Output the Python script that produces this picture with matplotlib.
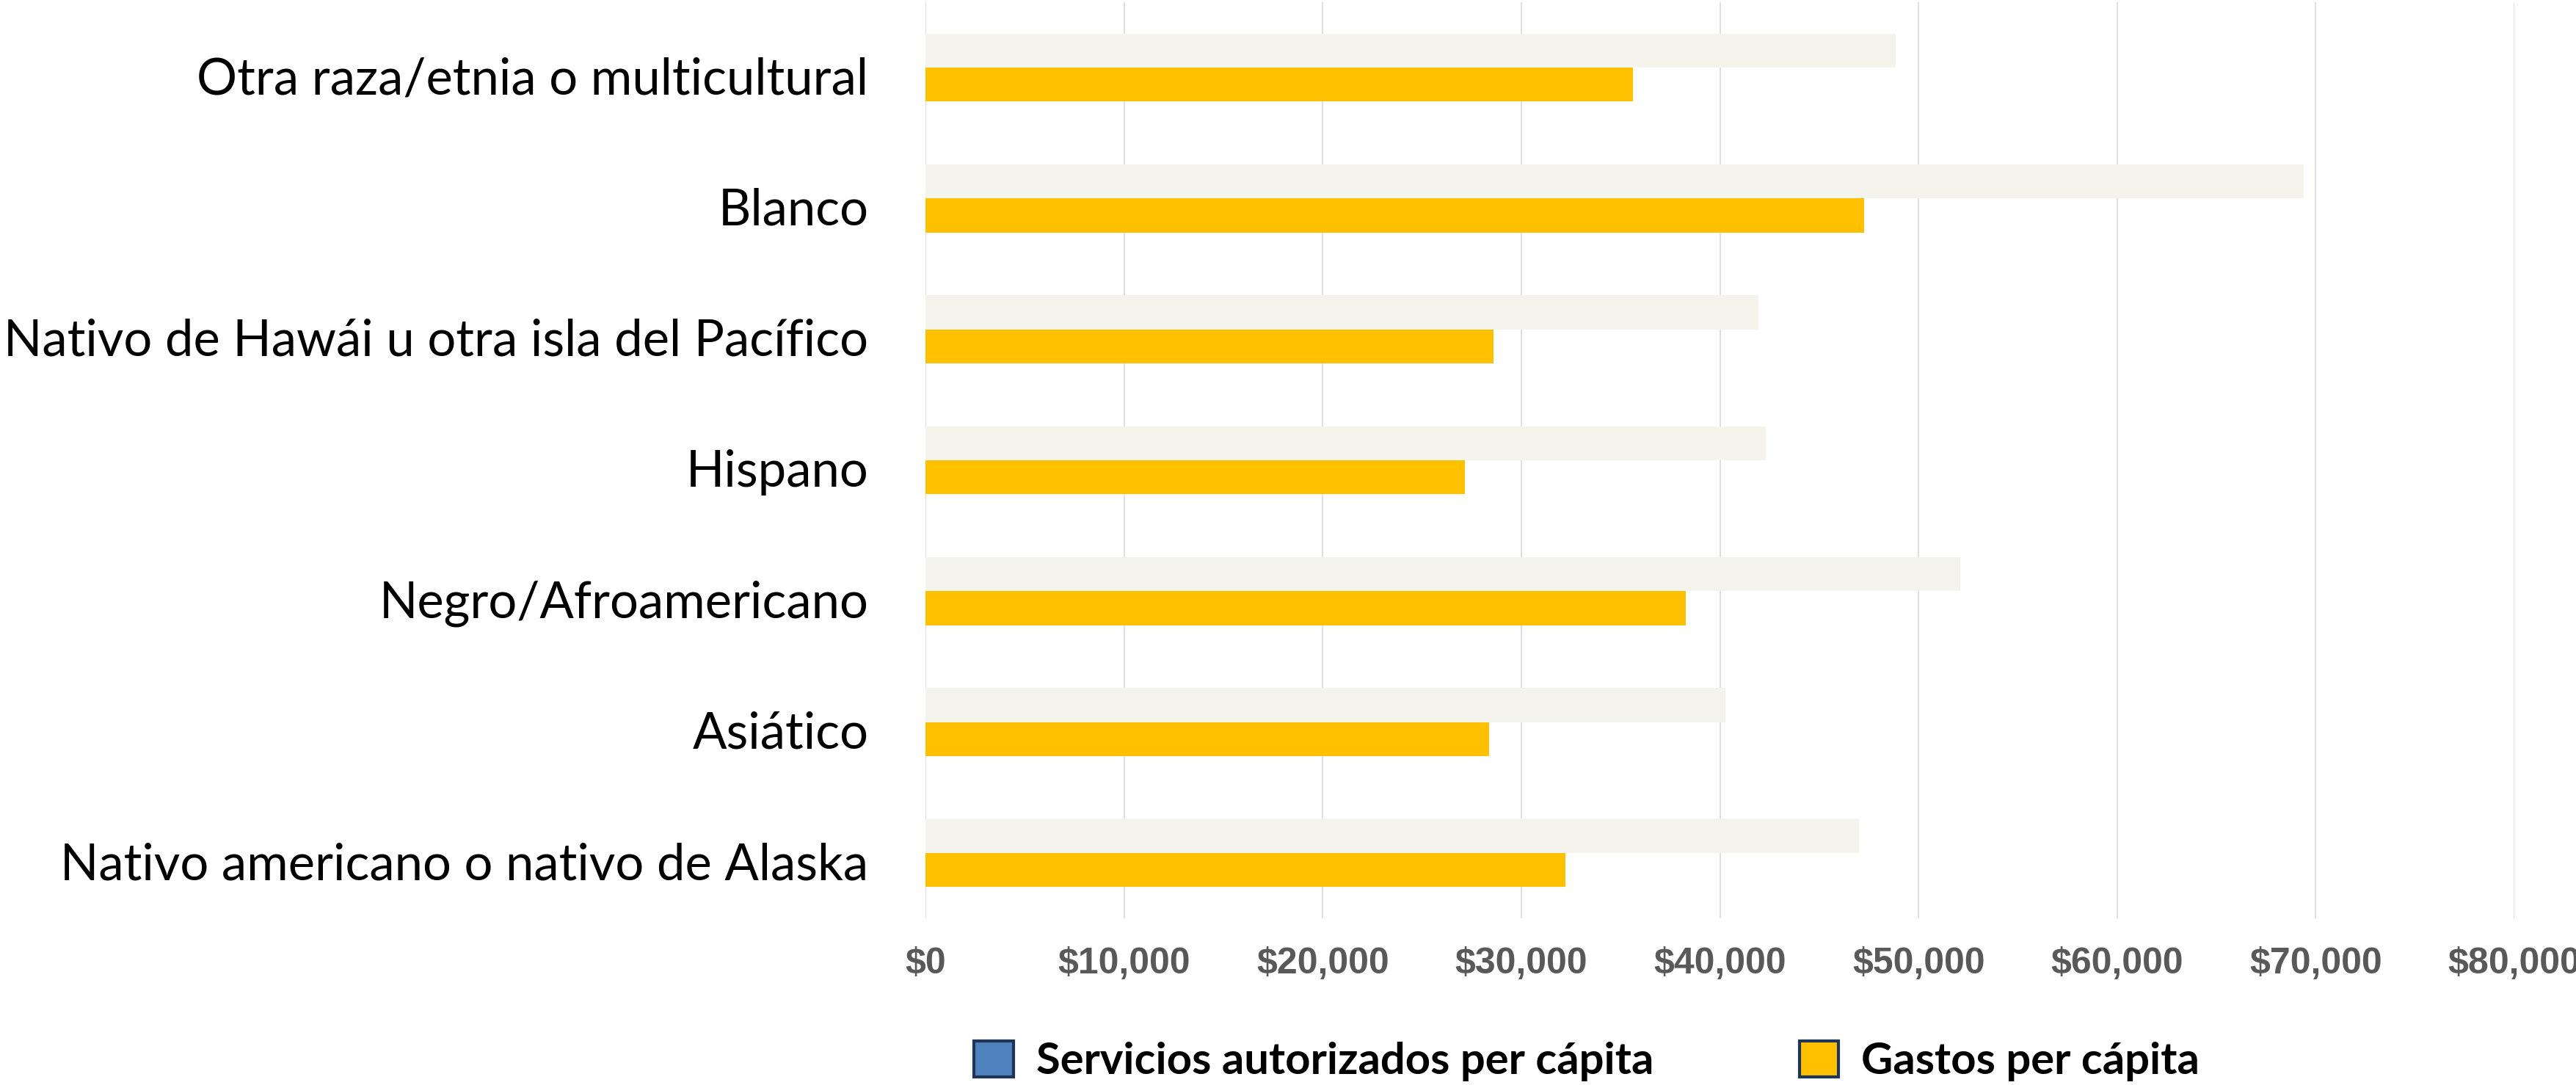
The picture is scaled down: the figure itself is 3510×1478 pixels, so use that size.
import matplotlib.pyplot as plt
import numpy as np
from matplotlib.patches import Patch
from matplotlib.ticker import FuncFormatter

# Per-capita figures by race/ethnicity (bottom to top on the chart)
categories = [
    'Nativo americano o nativo de Alaska',
    'Asiático',
    'Negro/Afroamericano',
    'Hispano',
    'Nativo de Hawái u otra isla del Pacífico',
    'Blanco',
    'Otra raza/etnia o multicultural',
]
authorized = [46980, 40270, 52100, 42320, 41920, 69390, 48850]
expenditures = [32210, 28380, 38280, 27150, 28590, 47260, 35610]
xticks = [0, 10000, 20000, 30000, 40000, 50000, 60000, 70000, 80000]

light_color = '#F4F4EC'
gold_color = '#FFC000'

fig = plt.figure(figsize=(35.1, 14.78), dpi=100)
ax = fig.add_axes([0.3593, 0.1536, 0.6168, 0.8445])

y = np.arange(len(categories))
h = 0.26
ax.barh(y + h / 2, authorized, height=h, color=light_color)
ax.barh(y - h / 2, expenditures, height=h, color=gold_color)

ax.set_xlim(0, 80000)
ax.set_ylim(-0.5, len(categories) - 0.5)
ax.set_xticks(xticks)
ax.xaxis.set_major_formatter(FuncFormatter(lambda v, p: f'${v:,.0f}'))
# labels sit a touch below the middle of each bar pair
ax.set_yticks(y - 0.06)
ax.set_yticklabels(categories, family='Lato', fontsize=49.5, color='black')

for lbl in ax.get_xticklabels():
    lbl.set_family('Liberation Sans')
    lbl.set_fontweight('bold')
    lbl.set_fontsize(36)
    lbl.set_color('#595959')

ax.tick_params(axis='x', length=0, pad=28)
ax.tick_params(axis='y', length=0, pad=56)
ax.grid(axis='x', color='#D9D9D9', linewidth=1.2)
ax.set_axisbelow(True)
for s in ax.spines.values():
    s.set_visible(False)

handles = [
    Patch(facecolor='#4F81BD', edgecolor='#1F3557', linewidth=3,
          label='Servicios autorizados per cápita'),
    Patch(facecolor=gold_color, edgecolor='#1F3557', linewidth=3,
          label='Gastos per cápita'),
]
fig.legend(handles=handles, loc='center', bbox_to_anchor=(0.616, 0.022),
           ncol=2, frameon=False, prop={'family': 'Lato', 'weight': 'bold', 'size': 43},
           handlelength=0.89, handleheight=0.89, handletextpad=0.52,
           columnspacing=3.33, borderaxespad=0)

fig.savefig('out.png', dpi=100, facecolor='white')
